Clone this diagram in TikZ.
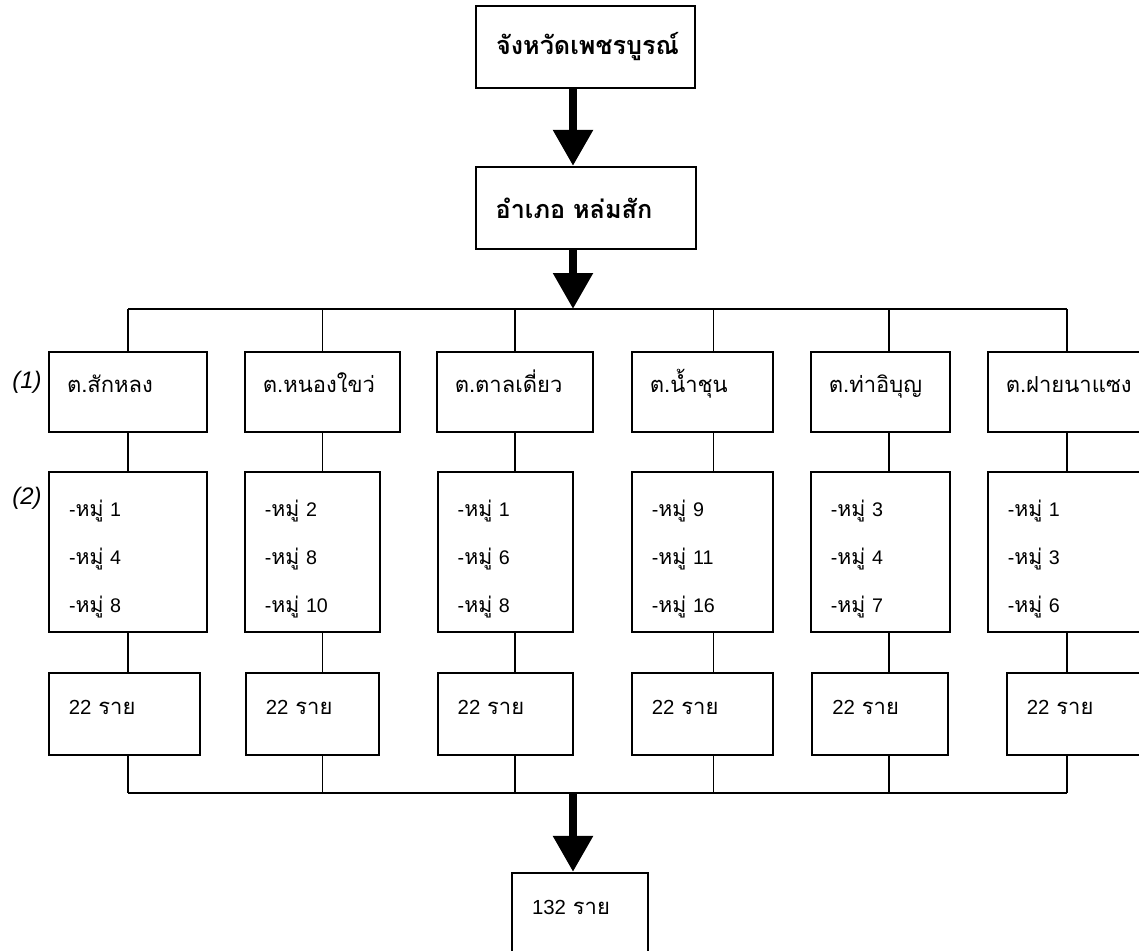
\documentclass[tikz,border=0pt]{standalone}
\usepackage{fontspec}
\setmainfont{Liberation Sans}
\newfontfamily\thai[Script=Thai,Scale=1.08]{Loma}
\usetikzlibrary{positioning,arrows.meta}

\newcommand\mooban[1]{-{\thai หมู่} #1}

\tikzset{
  unit/.style={draw, line width=1.5pt, inner ysep=0pt, align=left},
  head/.style={unit, inner xsep=0.5cm, text width=#1-1cm, minimum height=2.05cm,
    font=\fontsize{16.6}{19}\selectfont\bfseries},
  tambon/.style={unit, inner xsep=0.45cm, text width=#1-0.9cm, minimum height=2cm,
    text height=0.3cm, text depth=0.3cm, font=\fontsize{14.5}{17}\selectfont},
  muban/.style={unit, inner xsep=0.5cm, text width=#1-1cm, minimum height=4cm,
    text height=0.3cm, text depth=2.08cm, font=\fontsize{14}{34}\selectfont},
  total/.style={unit, inner xsep=0.5cm, text width=#1-1cm, minimum height=2.05cm,
    text height=0.3cm, text depth=0.3cm, font=\fontsize{14.5}{17}\selectfont},
  link/.style={line width=1.1pt},
  bus/.style={line width=1.5pt},
  bigarrow/.style={line width=6pt, -{Triangle[width=0.95cm,length=0.9cm]}},
  tag/.style={anchor=east, inner sep=0pt, font=\fontsize{17}{20}\selectfont\itshape},
}

\begin{document}
\begin{tikzpicture}[node distance=4cm, on grid]
  \useasboundingbox (0,0) rectangle (28.475,-23.775);

  % province and district
  \node[head=5.475cm] (prov) at (14.64,-1.175)      {\thai จังหวัดเพชรบูรณ์};
  \node[head=5.5cm]   (amp)  [below=4.025cm of prov] {\thai อำเภอ หล่มสัก};

  % tambon
  \node[tambon=3.95cm]  (t1) at (3.2,-9.8)        {\thai ต.สักหลง};
  \node[tambon=3.875cm] (t2) [right=4.86cm of t1] {\thai ต.หนองใขว่};
  \node[tambon=3.9cm]   (t3) [right=4.81cm of t2] {\thai ต.ตาลเดี่ยว};
  \node[tambon=3.525cm] (t4) [right=4.69cm of t3] {\thai ต.น้ำชุน};
  \node[tambon=3.475cm] (t5) [right=4.45cm of t4] {\thai ต.ท่าอิบุญ};
  \node[tambon=3.95cm]  (t6) [right=4.66cm of t5] {\thai ต.ฝายนาแซง};

  % villages
  \node[muban=3.95cm]  (m1) [below=of t1]               {\mooban{1}\\\mooban{4}\\\mooban{8}};
  \node[muban=3.375cm] (m2) [below=of t2, xshift=-0.25cm] {\mooban{2}\\\mooban{8}\\\mooban{10}};
  \node[muban=3.375cm] (m3) [below=of t3, xshift=-0.24cm] {\mooban{1}\\\mooban{6}\\\mooban{8}};
  \node[muban=3.525cm] (m4) [below=of t4]               {\mooban{9}\\\mooban{11}\\\mooban{16}};
  \node[muban=3.475cm] (m5) [below=of t5]               {\mooban{3}\\\mooban{4}\\\mooban{7}};
  \node[muban=3.95cm]  (m6) [below=of t6]               {\mooban{1}\\\mooban{3}\\\mooban{6}};

  % households
  \node[total=3.775cm] (r1) [below=4.05cm of m1, xshift=-0.09cm] {22 \thai ราย};
  \node[total=3.325cm] (r2) [below=4.05cm of m2]                 {22 \thai ราย};
  \node[total=3.375cm] (r3) [below=4.05cm of m3]                 {22 \thai ราย};
  \node[total=3.525cm] (r4) [below=4.05cm of m4]                 {22 \thai ราย};
  \node[total=3.4cm]   (r5) [below=4.05cm of m5]                 {22 \thai ราย};
  \node[total=3.475cm] (r6) [below=4.05cm of m6, xshift=0.24cm]  {22 \thai ราย};

  \node[total=3.4cm] (sum) at (14.5,-22.85) {132 \thai ราย};

  % row tags
  \node[tag] (lv1) at ([xshift=-0.15cm,yshift=0.25cm]t1.west) {(1)};
  \node[tag] (lv2) at ([xshift=-0.15cm,yshift=1.35cm]m1.west) {(2)};

  % connectors
  \coordinate (bus)    at (14.325,-7.725);
  \coordinate (lowbus) at (14.325,-19.825);
  \foreach \c/\dx in {1/0,2/0,3/0,4/0.28,5/0.22,6/0}
    \coordinate (d\c) at ([xshift=\dx cm]t\c.north);

  \draw[bigarrow] (prov.south -| bus) -- (amp.north -| bus);
  \draw[bigarrow] (amp.south -| bus) -- (bus);
  \draw[bus] (d1 |- bus) -- (d6 |- bus);
  \draw[bus] (d1 |- lowbus) -- (d6 |- lowbus);
  \foreach \c in {1,...,6}
  {
    \draw[link] (d\c |- bus) -- (d\c);
    \draw[link] (d\c |- t\c.south) -- (d\c |- m\c.north);
    \draw[link] (d\c |- m\c.south) -- (d\c |- r\c.north);
    \draw[link] (d\c |- r\c.south) -- (d\c |- lowbus);
  }
  \draw[bigarrow] (lowbus) -- (lowbus |- sum.north);
\end{tikzpicture}
\end{document}
